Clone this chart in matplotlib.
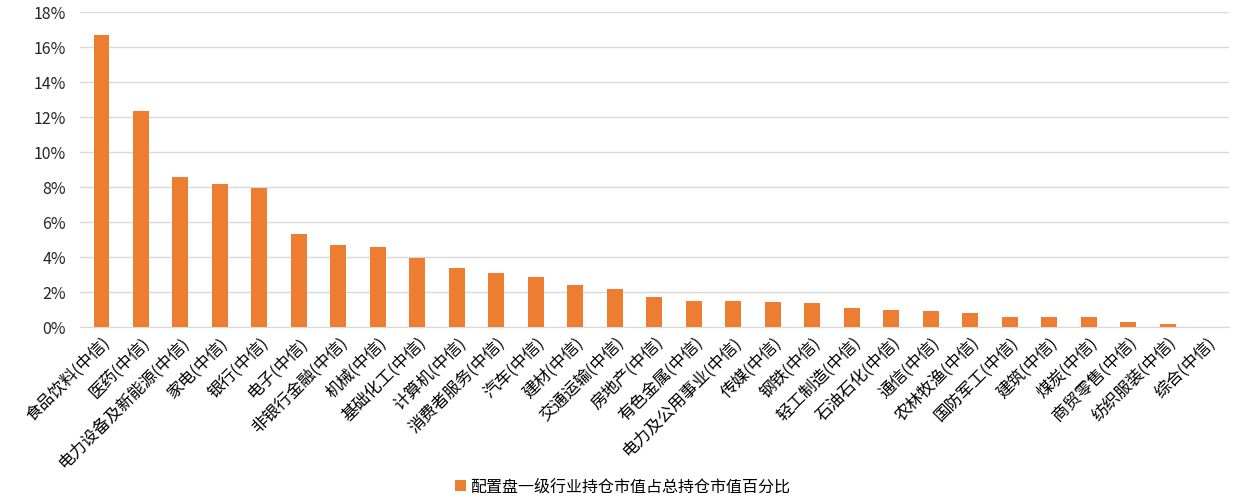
import matplotlib.pyplot as plt
from matplotlib.ticker import PercentFormatter

plt.rcParams["font.family"] = ["Noto Sans CJK SC", "DejaVu Sans"]

industries = [
    "食品饮料(中信)", "医药(中信)", "电力设备及新能源(中信)", "家电(中信)", "银行(中信)",
    "电子(中信)", "非银行金融(中信)", "机械(中信)", "基础化工(中信)", "计算机(中信)",
    "消费者服务(中信)", "汽车(中信)", "建材(中信)", "交通运输(中信)", "房地产(中信)",
    "有色金属(中信)", "电力及公用事业(中信)", "传媒(中信)", "钢铁(中信)", "轻工制造(中信)",
    "石油石化(中信)", "通信(中信)", "农林牧渔(中信)", "国防军工(中信)", "建筑(中信)",
    "煤炭(中信)", "商贸零售(中信)", "纺织服装(中信)", "综合(中信)",
]
share_pct = [
    16.7, 12.35, 8.6, 8.2, 7.96, 5.3, 4.7, 4.6, 3.95, 3.35,
    3.08, 2.85, 2.42, 2.16, 1.7, 1.5, 1.48, 1.43, 1.37, 1.1,
    1.0, 0.93, 0.83, 0.6, 0.55, 0.55, 0.28, 0.2, 0.03,
]
series_name = "配置盘一级行业持仓市值占总持仓市值百分比"
bar_color = "#ED7D31"

fig, ax = plt.subplots(figsize=(12.45, 5.04), dpi=100)
fig.subplots_adjust(left=0.064, right=0.987, top=0.976, bottom=0.351)

x = range(len(industries))
ax.bar(x, share_pct, width=0.4, color=bar_color, label=series_name, zorder=3)

ax.set_ylim(0, 18)
ax.set_yticks(range(0, 19, 2))
ax.yaxis.set_major_formatter(PercentFormatter(decimals=0))
ax.set_xlim(-0.55, len(industries) - 0.45)
ax.grid(axis="y", color="#d9d9d9", linewidth=1, zorder=0)
for side in ("left", "right", "top"):
    ax.spines[side].set_visible(False)
ax.spines["bottom"].set_color("#d9d9d9")
ax.tick_params(axis="both", length=0)
ax.tick_params(axis="y", labelsize=11.5, colors="#262626", pad=10)

ax.set_xticks(list(x))
ax.set_xticklabels(industries, rotation=45, ha="right", va="top",
                   rotation_mode="anchor", fontsize=12)
ax.tick_params(axis="x", pad=5)

handles, labels = ax.get_legend_handles_labels()
fig.legend(handles, labels, loc="center", bbox_to_anchor=(0.5, 0.034), frameon=False,
           fontsize=11.5, handlelength=0.7, handleheight=0.7, handletextpad=0.3)

plt.savefig("out.png", dpi=100)
plt.close()
